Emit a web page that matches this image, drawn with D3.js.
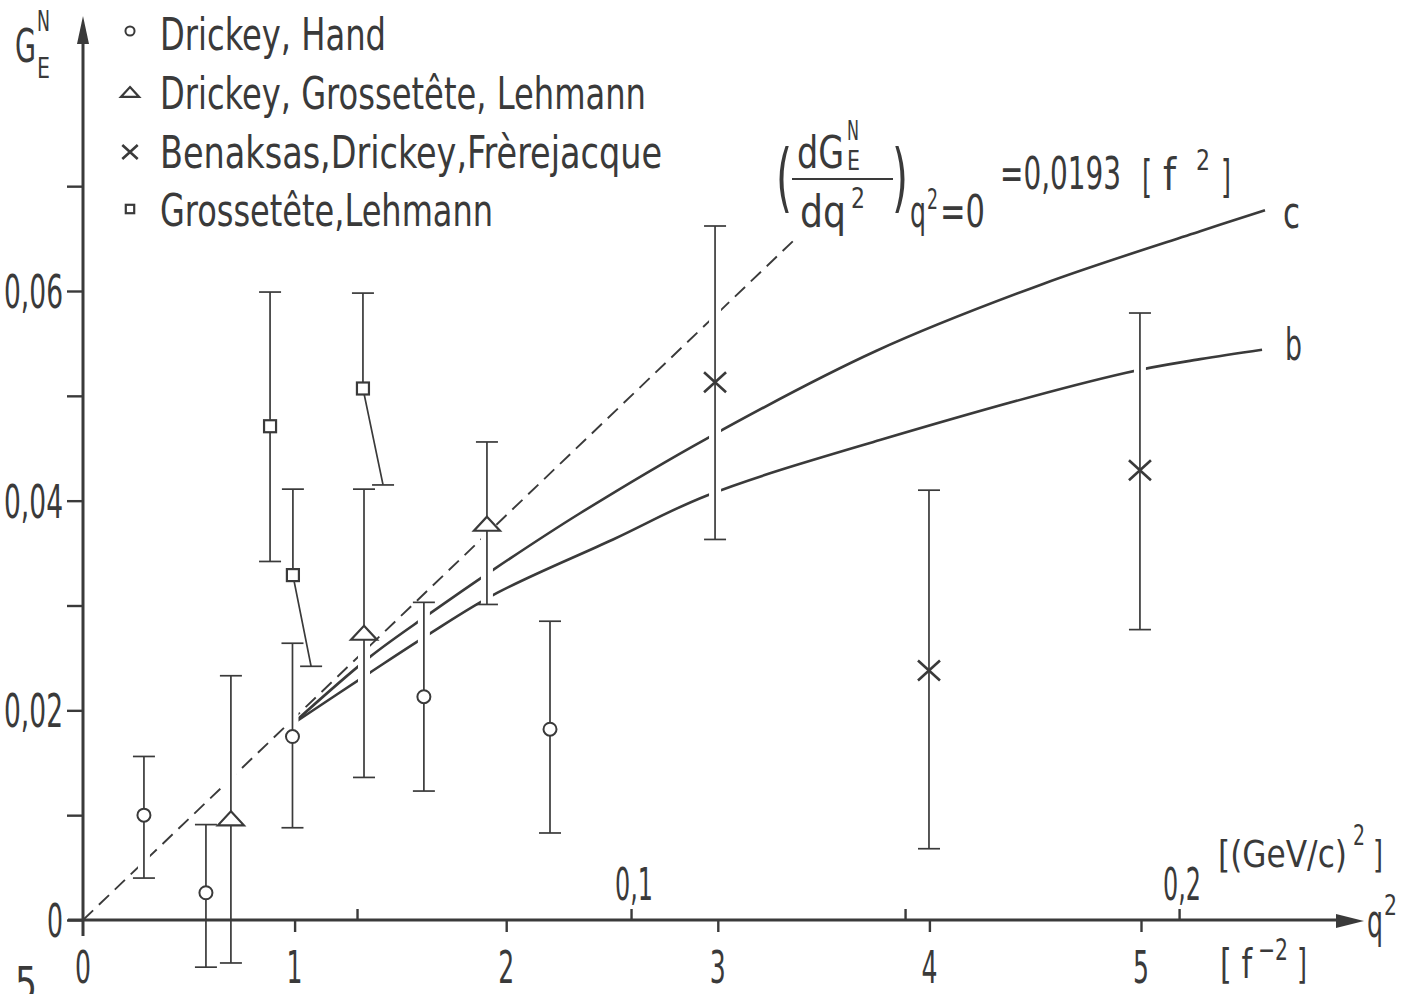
<!DOCTYPE html>
<html><head><meta charset="utf-8">
<script src="https://cdn.jsdelivr.net/npm/d3@7"></script>
<style>
body{margin:0;background:#fff}
text{font-family:'Liberation Sans Narrow','DejaVu Sans Condensed','Liberation Sans',sans-serif;fill:#3a3a3a}
</style>
</head><body><svg id="chart" width="1415" height="994"></svg>
<script>
// ---------------- data ----------------
const seriesNames = ["Drickey, Hand", "Drickey, Grossetête, Lehmann", "Benaksas,Drickey,Frèrejacque", "Grossetête,Lehmann"];
// q2 in f^-2, G = G_E^N, hi/lo = error bar ends; lowQ2 = q2 at which lower bar ends (slanted bars)
const drickeyHand = [
  {q2:0.288, g:0.0100, hi:0.0156, lo:0.0040},
  {q2:0.581, g:0.0026, hi:0.0091, lo:-0.0045},
  {q2:0.990, g:0.0175, hi:0.0264, lo:0.0088},
  {q2:1.611, g:0.0213, hi:0.0303, lo:0.0123},
  {q2:2.207, g:0.0182, hi:0.0285, lo:0.0083}
];
const drickeyGrossLehmann = [
  {q2:0.699, g:0.0097, hi:0.0233, lo:-0.0041},
  {q2:1.328, g:0.0274, hi:0.0411, lo:0.0136},
  {q2:1.909, g:0.0378, hi:0.0456, lo:0.0301}
];
const benaksas = [
  {q2:2.987, g:0.0513, hi:0.0662, lo:0.0363},
  {q2:3.998, g:0.0238, hi:0.0410, lo:0.0068},
  {q2:4.995, g:0.0429, hi:0.0579, lo:0.0277}
];
const grossLehmann = [
  {q2:0.884, g:0.0471, hi:0.0599, lo:0.0342, lowQ2:0.884},
  {q2:0.992, g:0.0329, hi:0.0411, lo:0.0242, lowQ2:1.078},
  {q2:1.323, g:0.0507, hi:0.0598, lo:0.0415, lowQ2:1.418}
];
const curveC = [[0.99,0.0187],[1.356,0.0251],[1.63,0.0291],[1.938,0.0334],[2.349,0.0388],[2.954,0.0460],[3.75,0.0543],[4.54,0.0607],[5.28,0.0657],[5.586,0.0677]];
const curveB = [[0.99,0.0187],[1.356,0.0236],[1.63,0.0272],[1.957,0.0312],[2.505,0.0363],[2.949,0.0405],[3.77,0.0458],[4.93,0.0522],[5.28,0.0535],[5.572,0.0544]];
const slope = 0.0193;          // (dG/dq2) at q2=0, f^2
const tangentRange = [0, 3.36];
const yMajorTicks = [0, 0.02, 0.04, 0.06];
const yTickLabels = ["0", "0,02", "0,04", "0,06"];
const yMinorTicks = [0.01, 0.03, 0.05, 0.07];
const xTicks = [0, 1, 2, 3, 4, 5];
const xTickLabels = ["0", "1", "2", "3", "4", "5"];
const gevTicks = [0.05, 0.1, 0.15, 0.2];
const gevTickLabels = ["", "0,1", "", "0,2"];
const fPerGeV2 = 25.9;

// ---------------- drawing ----------------
const ink = "#3a3a3a";
const svg = d3.select("#chart");
svg.append("rect").attr("width",1415).attr("height",994).attr("fill","#fff");
const x = d3.scaleLinear().domain([0,5]).range([83,1141]);
const y = d3.scaleLinear().domain([0,0.06]).range([920,291]);
const xg = d3.scaleLinear().domain([0,0.2]).range([x(0), x(0.2*fPerGeV2)]);

function T(g, str, px, py, size, w, anchor) {
  const t = g.append("text").attr("x",px).attr("y",py).attr("font-size",size)
    .attr("text-anchor", anchor||"start").text(str);
  if (w) t.attr("textLength", w).attr("lengthAdjust","spacingAndGlyphs");
  return t;
}

// curves
const line = d3.line().x(d=>x(d[0])).y(d=>y(d[1])).curve(d3.curveCatmullRom.alpha(0.5));
const gCurves = svg.append("g");
gCurves.append("path").datum(tangentRange.map(q=>[q, slope*q]))
  .attr("d", d3.line().x(d=>x(d[0])).y(d=>y(d[1])))
  .attr("fill","none").attr("stroke",ink).attr("stroke-width",1.9).attr("stroke-dasharray","14,8");
[curveC, curveB].forEach(c => gCurves.append("path").datum(c).attr("d", line)
  .attr("fill","none").attr("stroke",ink).attr("stroke-width",2.6));

const allSeries = [drickeyHand, drickeyGrossLehmann, benaksas, grossLehmann];
// white knock-outs where error bars cross the curves
const gHalo = svg.append("g");
allSeries.forEach(s => s.forEach(d => {
  const xl = d.lowQ2 !== undefined ? d.lowQ2 : d.q2;
  gHalo.append("path").attr("d", `M${x(d.q2)},${y(d.hi)}L${x(d.q2)},${y(d.g)}L${x(xl)},${y(d.lo)}`)
    .attr("fill","none").attr("stroke","#fff").attr("stroke-width",12);
}));

// axes
const gAx = svg.append("g");
const yAxis = d3.axisLeft(y).tickValues(yMajorTicks.concat(yMinorTicks)).tickSize(16).tickFormat("");
const gy = gAx.append("g").attr("transform","translate(83,0)").call(yAxis);
gy.select(".domain").remove();
gy.selectAll(".tick line").attr("stroke",ink).attr("stroke-width",2.4);
const xAxis = d3.axisBottom(x).tickValues(xTicks.slice(1)).tickSize(12).tickFormat("");
const gx = gAx.append("g").attr("transform","translate(0,920)").call(xAxis);
gx.select(".domain").remove();
gx.selectAll(".tick line").attr("stroke",ink).attr("stroke-width",2.4);
const gAxis = d3.axisTop(xg).tickValues(gevTicks).tickSize(11).tickFormat("");
const gg = gAx.append("g").attr("transform","translate(0,920)").call(gAxis);
gg.select(".domain").remove();
gg.selectAll(".tick line").attr("stroke",ink).attr("stroke-width",2.4);
gAx.append("line").attr("x1",83).attr("x2",83).attr("y1",936).attr("y2",40).attr("stroke",ink).attr("stroke-width",3);
gAx.append("path").attr("d","M83,16L89,44L77,44Z").attr("fill",ink);
gAx.append("line").attr("x1",68).attr("x2",1345).attr("y1",920).attr("y2",920).attr("stroke",ink).attr("stroke-width",3);
gAx.append("path").attr("d","M1364,921L1336,914L1336,928Z").attr("fill",ink);

// error bars
const gErr = svg.append("g").attr("stroke",ink).attr("stroke-width",1.7).attr("fill","none");
allSeries.forEach(s => s.forEach(d => {
  const xl = d.lowQ2 !== undefined ? d.lowQ2 : d.q2;
  gErr.append("path").attr("d", `M${x(d.q2)},${y(d.hi)}L${x(d.q2)},${y(d.g)}L${x(xl)},${y(d.lo)}`);
  gErr.append("line").attr("x1",x(d.q2)-11).attr("x2",x(d.q2)+11).attr("y1",y(d.hi)).attr("y2",y(d.hi));
  gErr.append("line").attr("x1",x(xl)-11).attr("x2",x(xl)+11).attr("y1",y(d.lo)).attr("y2",y(d.lo));
}));

// markers
const mk = {
  circle:(g,cx,cy,s)=>g.append("circle").attr("cx",cx).attr("cy",cy).attr("r",6.5*s).attr("fill","#fff").attr("stroke",ink).attr("stroke-width",2),
  tri:(g,cx,cy,s)=>g.append("path").attr("d",`M${cx},${cy-7*s}L${cx+13*s},${cy+7*s}L${cx-13*s},${cy+7*s}Z`).attr("fill","#fff").attr("stroke",ink).attr("stroke-width",2.2),
  cross:(g,cx,cy,s)=>g.append("path").attr("d",`M${cx-11*s},${cy-10*s}L${cx+11*s},${cy+10*s}M${cx-11*s},${cy+10*s}L${cx+11*s},${cy-10*s}`).attr("stroke",ink).attr("stroke-width",2.6),
  square:(g,cx,cy,s)=>g.append("rect").attr("x",cx-6*s).attr("y",cy-6*s).attr("width",12*s).attr("height",12*s).attr("fill","#fff").attr("stroke",ink).attr("stroke-width",2.2)
};
const markerTypes = ["circle","tri","cross","square"];
const gMk = svg.append("g");
allSeries.forEach((s,i) => s.forEach(d => mk[markerTypes[i]](gMk, x(d.q2), y(d.g), 1)));

// legend
const gLeg = svg.append("g");
const legY = [50, 109, 168, 226], legW = [226, 486, 502, 333], legSymY = [31, 92, 152, 209];
seriesNames.forEach((n,i) => {
  mk[markerTypes[i]](gLeg, 130, legSymY[i], 0.7);
  T(gLeg, n, 160, legY[i], 45, legW[i]);
});

// axis labels
const gT = svg.append("g");
yTickLabels.forEach((l,i) => T(gT, l, 63, y(yMajorTicks[i])+17, 46, l.length>1?59:16, "end"));
xTickLabels.forEach((l,i) => T(gT, l, x(xTicks[i]), 983, 44, 16, "middle"));
gevTickLabels.forEach((l,i) => { if (l) T(gT, l, xg(gevTicks[i])+3, 900, 44, 38, "middle"); });
T(gT, "5", 15, 1000, 46, 22);
T(gT, "G", 15, 62, 46, 21);
T(gT, "N", 37, 31, 28, 13);
T(gT, "E", 37, 78, 28, 13);
T(gT, "[(GeV/c)", 1218, 867, 38, 129);
T(gT, "2", 1353, 845, 28, 12);
T(gT, "]", 1373, 867, 38, 10);
T(gT, "q", 1367, 937, 46, 16);
T(gT, "2", 1384, 915, 28, 13);
T(gT, "[ f", 1220, 978, 40, 32);
T(gT, "−2", 1258, 960, 30, 30);
T(gT, "]", 1297, 978, 40, 10);
T(gT, "c", 1283, 228, 44, 17);
T(gT, "b", 1285, 360, 44, 17);

// annotation of slope
const gA = svg.append("g");
T(gA, "(", 776, 203, 74, 16);
T(gA, ")", 892, 203, 74, 16);
T(gA, "dG", 797, 168, 44, 47);
T(gA, "N", 847, 140, 26, 12);
T(gA, "E", 847, 170, 26, 13);
gA.append("line").attr("x1",792).attr("x2",893).attr("y1",179).attr("y2",179).attr("stroke",ink).attr("stroke-width",2);
T(gA, "dq", 800, 227, 44, 46);
T(gA, "2", 851, 208, 28, 14);
T(gA, "q", 910, 227, 44, 16);
T(gA, "2", 927, 209, 28, 11);
T(gA, "=0", 940, 227, 44, 45);
T(gA, "=0,0193", 1000, 189, 44, 121);
T(gA, "[", 1142, 192, 44, 10);
T(gA, "f", 1163, 190, 44, 13);
T(gA, "2", 1196, 170, 28, 14);
T(gA, "]", 1221, 192, 44, 10);
</script></body></html>
